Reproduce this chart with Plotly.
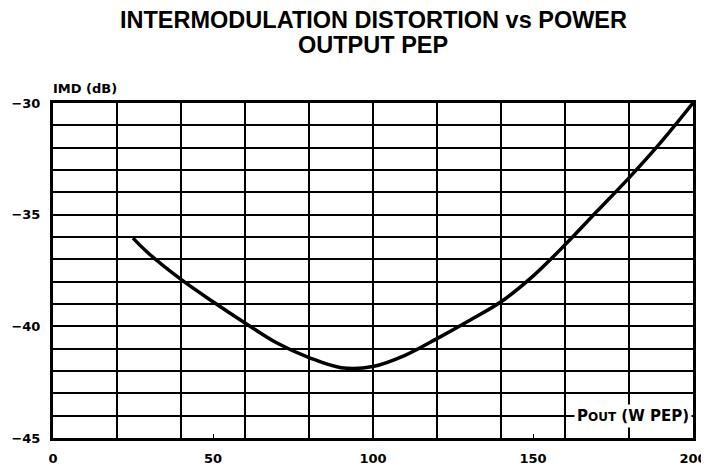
import plotly.graph_objects as go

# Data
pout_w = [25, 30, 40, 50, 60, 70, 80, 90, 100, 110, 120, 130, 140, 150, 160, 170, 180, 190, 200]
imd_db = [-36.05, -36.75, -37.9, -38.9, -39.85, -40.75, -41.4, -41.85, -41.8, -41.3, -40.55, -39.75,
          -38.9, -37.75, -36.35, -34.85, -33.35, -31.75, -30.0]

x_ticks = [0, 50, 100, 150, 200]
y_ticks = [-45, -40, -35, -30]

FONT = "Liberation Sans, Arial, sans-serif"
WIDE = "DejaVu Sans, Liberation Sans, sans-serif"

fig = go.Figure()
fig.add_trace(go.Scatter(
    x=pout_w, y=imd_db, mode="lines",
    line=dict(color="black", width=3.5, shape="spline", smoothing=1.0),
    hoverinfo="skip", showlegend=False,
))

# page body has an 8px margin, so the figure is sized/positioned to compensate
fig.update_layout(
    width=701, height=457,
    margin=dict(l=45, r=16, t=95, b=27),
    paper_bgcolor="white", plot_bgcolor="white",
    font=dict(family=FONT, color="black"),
    xaxis=dict(
        range=[0, 200], tickvals=x_ticks, ticktext=[str(v) for v in x_ticks],
        showgrid=False, zeroline=False, automargin=False,
        showline=True, linewidth=3, linecolor="black", mirror=True,
        ticks="inside", ticklen=4, tickwidth=1, tickcolor="black",
        ticklabelstandoff=6,
        tickfont=dict(size=13, weight="bold", family=WIDE, color="black"),
        minor=dict(dtick=20, tick0=0, showgrid=True, gridcolor="black", gridwidth=2, ticks=""),
        fixedrange=True,
    ),
    yaxis=dict(
        range=[-45, -30], tickvals=y_ticks,
        showgrid=True, gridcolor="black", gridwidth=2, zeroline=False, automargin=False,
        showline=True, linewidth=3, linecolor="black", mirror=True,
        ticks="", ticklabelstandoff=7,
        tickfont=dict(size=13, weight="bold", family=WIDE, color="black"),
        minor=dict(dtick=1, tick0=-45, showgrid=True, gridcolor="black", gridwidth=2, ticks=""),
        fixedrange=True,
    ),
    annotations=[
        dict(text="INTERMODULATION DISTORTION vs POWER", xref="paper", yref="paper",
             x=0.5, y=(438 - 20) / 335, xanchor="center", yanchor="middle", showarrow=False,
             font=dict(size=23.5, weight="bold", family=FONT, color="black")),
        dict(text="OUTPUT PEP", xref="paper", yref="paper",
             x=0.5, y=(438 - 45) / 335, xanchor="center", yanchor="middle", showarrow=False,
             font=dict(size=23.5, weight="bold", family=FONT, color="black")),
        dict(text="IMD (dB)", xref="paper", yref="paper", x=0, y=1.0, xanchor="left", yanchor="bottom",
             xshift=-2, yshift=5, showarrow=False,
             font=dict(size=13, weight="bold", family=WIDE, color="black")),
        dict(text="P<span style='font-size:12px'>OUT</span> (W PEP)", xref="paper", yref="y",
             x=1.0, y=-44.0, xanchor="right", yanchor="middle", showarrow=False,
             xshift=-1, bgcolor="white", borderpad=2,
             font=dict(size=15, weight="bold", family=WIDE, color="black")),
    ],
)

fig.write_html("out.html")
